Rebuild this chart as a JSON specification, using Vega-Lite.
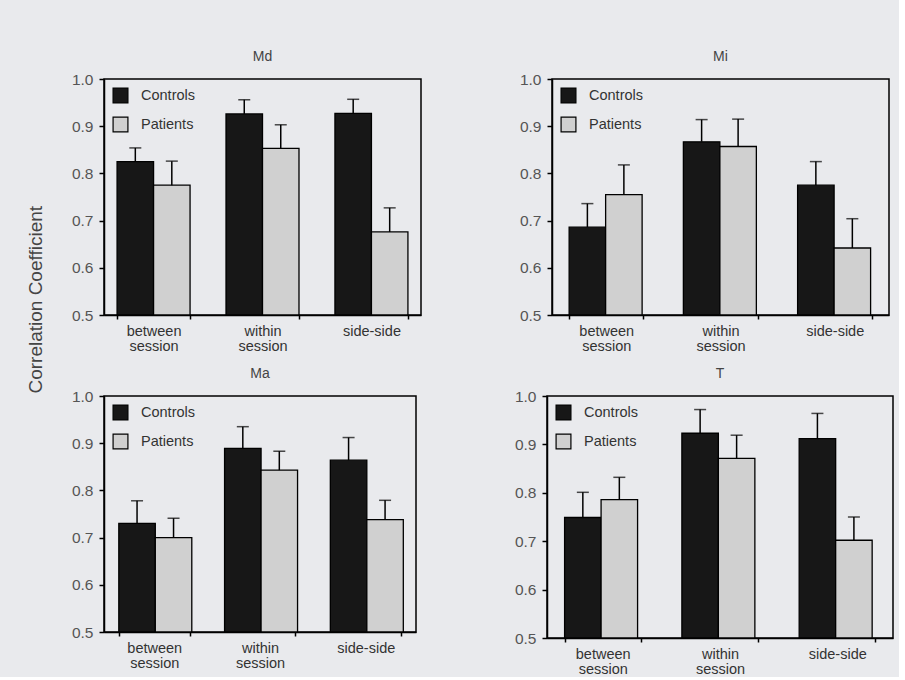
{
  "$schema": "https://vega.github.io/schema/vega-lite/v6.json",
  "background": "#e9eaed",
  "padding": {"left": 26, "top": 49, "right": 5, "bottom": 0},
  "title": {"text": "Correlation Coefficient", "orient": "left", "anchor": "middle", "fontSize": 19, "fontWeight": "normal", "color": "#444", "font": "Liberation Sans", "offset": 25, "dx": 63},
  "config": {
    "font": "Liberation Sans",
    "view": {"stroke": "black", "strokeWidth": 1.5},
    "axisY": {"values": [0.5, 0.6, 0.7, 0.8, 0.9, 1.0], "format": ".1f", "tickSize": 5, "domainWidth": 1.5, "domainColor": "black", "tickColor": "black", "tickWidth": 1.5, "labelFontSize": 15.5, "labelColor": "#555", "labelPadding": 6, "title": null, "grid": false},
    "axisX": {"title": null, "labelAngle": 0, "tickBand": "extent", "tickSize": 4, "domainWidth": 1.5, "domainColor": "black", "tickColor": "black", "tickWidth": 1.5, "labelFontSize": 14.5, "labelColor": "#333", "labelLineHeight": 15, "labelPadding": 5, "labelExpr": "split(datum.label, ' ')"},
    "legend": {"orient": "top-left", "offset": 8, "title": null, "symbolType": "square", "symbolSize": 220, "symbolStrokeColor": "black", "symbolStrokeWidth": 1.2, "labelFontSize": 14.5, "labelColor": "#333", "rowPadding": 8, "labelOffset": 12}
  },
  "data": {"values": [
    {"panel": "Md", "cat": "between session", "group": "Controls", "value": 0.825, "upper": 0.854},
    {"panel": "Md", "cat": "between session", "group": "Patients", "value": 0.775, "upper": 0.826},
    {"panel": "Md", "cat": "within session", "group": "Controls", "value": 0.926, "upper": 0.956},
    {"panel": "Md", "cat": "within session", "group": "Patients", "value": 0.853, "upper": 0.903},
    {"panel": "Md", "cat": "side-side", "group": "Controls", "value": 0.927, "upper": 0.957},
    {"panel": "Md", "cat": "side-side", "group": "Patients", "value": 0.676, "upper": 0.727},
    {"panel": "Mi", "cat": "between session", "group": "Controls", "value": 0.686, "upper": 0.736},
    {"panel": "Mi", "cat": "between session", "group": "Patients", "value": 0.755, "upper": 0.818},
    {"panel": "Mi", "cat": "within session", "group": "Controls", "value": 0.867, "upper": 0.914},
    {"panel": "Mi", "cat": "within session", "group": "Patients", "value": 0.857, "upper": 0.915},
    {"panel": "Mi", "cat": "side-side", "group": "Controls", "value": 0.775, "upper": 0.825},
    {"panel": "Mi", "cat": "side-side", "group": "Patients", "value": 0.642, "upper": 0.704},
    {"panel": "Ma", "cat": "between session", "group": "Controls", "value": 0.730, "upper": 0.778},
    {"panel": "Ma", "cat": "between session", "group": "Patients", "value": 0.700, "upper": 0.741},
    {"panel": "Ma", "cat": "within session", "group": "Controls", "value": 0.889, "upper": 0.935},
    {"panel": "Ma", "cat": "within session", "group": "Patients", "value": 0.843, "upper": 0.883},
    {"panel": "Ma", "cat": "side-side", "group": "Controls", "value": 0.864, "upper": 0.912},
    {"panel": "Ma", "cat": "side-side", "group": "Patients", "value": 0.738, "upper": 0.779},
    {"panel": "T", "cat": "between session", "group": "Controls", "value": 0.749, "upper": 0.801},
    {"panel": "T", "cat": "between session", "group": "Patients", "value": 0.786, "upper": 0.832},
    {"panel": "T", "cat": "within session", "group": "Controls", "value": 0.923, "upper": 0.972},
    {"panel": "T", "cat": "within session", "group": "Patients", "value": 0.871, "upper": 0.919},
    {"panel": "T", "cat": "side-side", "group": "Controls", "value": 0.912, "upper": 0.964},
    {"panel": "T", "cat": "side-side", "group": "Patients", "value": 0.702, "upper": 0.750}
  ]},
  "vconcat": [
    {"hconcat": [
      {"width": 317, "height": 236, "title": {"text": "Md", "fontSize": 14, "fontWeight": "normal", "color": "#444", "offset": 8},
       "transform": [{"filter": "datum.panel === 'Md'"}],
       "encoding": {"x": {"field": "cat", "type": "nominal", "sort": ["between session", "within session", "side-side"], "scale": {"paddingInner": 0.33, "paddingOuter": 0.12}}},
       "layer": [
        {"mark": {"type": "bar", "stroke": "black", "strokeWidth": 1.3}, "encoding": {"xOffset": {"field": "group", "sort": ["Controls", "Patients"]}, "y": {"field": "value", "type": "quantitative", "scale": {"domain": [0.5, 1.0], "zero": false}}, "y2": {"datum": 0.5}, "color": {"field": "group", "type": "nominal", "scale": {"domain": ["Controls", "Patients"], "range": ["#171717", "#d0d0d0"]}}}},
        {"mark": {"type": "rule", "strokeWidth": 1.5, "color": "black"}, "encoding": {"xOffset": {"field": "group", "sort": ["Controls", "Patients"]}, "y": {"field": "value", "type": "quantitative"}, "y2": {"field": "upper"}}},
        {"mark": {"type": "tick", "thickness": 1.5, "size": 12, "color": "black"}, "encoding": {"xOffset": {"field": "group", "sort": ["Controls", "Patients"]}, "y": {"field": "upper", "type": "quantitative"}}}
       ]},
      {"width": 337, "height": 236, "title": {"text": "Mi", "fontSize": 14, "fontWeight": "normal", "color": "#444", "offset": 8},
       "transform": [{"filter": "datum.panel === 'Mi'"}],
       "encoding": {"x": {"field": "cat", "type": "nominal", "sort": ["between session", "within session", "side-side"], "scale": {"paddingInner": 0.35, "paddingOuter": 0.15}}},
       "layer": [
        {"mark": {"type": "bar", "stroke": "black", "strokeWidth": 1.3}, "encoding": {"xOffset": {"field": "group", "sort": ["Controls", "Patients"]}, "y": {"field": "value", "type": "quantitative", "scale": {"domain": [0.5, 1.0], "zero": false}}, "y2": {"datum": 0.5}, "color": {"field": "group", "type": "nominal", "scale": {"domain": ["Controls", "Patients"], "range": ["#171717", "#d0d0d0"]}}}},
        {"mark": {"type": "rule", "strokeWidth": 1.5, "color": "black"}, "encoding": {"xOffset": {"field": "group", "sort": ["Controls", "Patients"]}, "y": {"field": "value", "type": "quantitative"}, "y2": {"field": "upper"}}},
        {"mark": {"type": "tick", "thickness": 1.5, "size": 12, "color": "black"}, "encoding": {"xOffset": {"field": "group", "sort": ["Controls", "Patients"]}, "y": {"field": "upper", "type": "quantitative"}}}
       ]}
    ], "spacing": 96, "resolve": {"scale": {"color": "independent", "y": "independent"}, "legend": {"color": "independent"}}},
    {"hconcat": [
      {"width": 312, "height": 236, "title": {"text": "Ma", "fontSize": 14, "fontWeight": "normal", "color": "#444", "offset": 8},
       "transform": [{"filter": "datum.panel === 'Ma'"}],
       "encoding": {"x": {"field": "cat", "type": "nominal", "sort": ["between session", "within session", "side-side"], "scale": {"paddingInner": 0.33, "paddingOuter": 0.14}}},
       "layer": [
        {"mark": {"type": "bar", "stroke": "black", "strokeWidth": 1.3}, "encoding": {"xOffset": {"field": "group", "sort": ["Controls", "Patients"]}, "y": {"field": "value", "type": "quantitative", "scale": {"domain": [0.5, 1.0], "zero": false}}, "y2": {"datum": 0.5}, "color": {"field": "group", "type": "nominal", "scale": {"domain": ["Controls", "Patients"], "range": ["#171717", "#d0d0d0"]}}}},
        {"mark": {"type": "rule", "strokeWidth": 1.5, "color": "black"}, "encoding": {"xOffset": {"field": "group", "sort": ["Controls", "Patients"]}, "y": {"field": "value", "type": "quantitative"}, "y2": {"field": "upper"}}},
        {"mark": {"type": "tick", "thickness": 1.5, "size": 12, "color": "black"}, "encoding": {"xOffset": {"field": "group", "sort": ["Controls", "Patients"]}, "y": {"field": "upper", "type": "quantitative"}}}
       ]},
      {"width": 346, "height": 242, "title": {"text": "T", "fontSize": 14, "fontWeight": "normal", "color": "#444", "offset": 8},
       "transform": [{"filter": "datum.panel === 'T'"}],
       "encoding": {"x": {"field": "cat", "type": "nominal", "sort": ["between session", "within session", "side-side"], "scale": {"paddingInner": 0.35, "paddingOuter": 0.15}}},
       "layer": [
        {"mark": {"type": "bar", "stroke": "black", "strokeWidth": 1.3}, "encoding": {"xOffset": {"field": "group", "sort": ["Controls", "Patients"]}, "y": {"field": "value", "type": "quantitative", "scale": {"domain": [0.5, 1.0], "zero": false}}, "y2": {"datum": 0.5}, "color": {"field": "group", "type": "nominal", "scale": {"domain": ["Controls", "Patients"], "range": ["#171717", "#d0d0d0"]}}}},
        {"mark": {"type": "rule", "strokeWidth": 1.5, "color": "black"}, "encoding": {"xOffset": {"field": "group", "sort": ["Controls", "Patients"]}, "y": {"field": "value", "type": "quantitative"}, "y2": {"field": "upper"}}},
        {"mark": {"type": "tick", "thickness": 1.5, "size": 12, "color": "black"}, "encoding": {"xOffset": {"field": "group", "sort": ["Controls", "Patients"]}, "y": {"field": "upper", "type": "quantitative"}}}
       ]}
    ], "spacing": 96, "resolve": {"scale": {"color": "independent", "y": "independent"}, "legend": {"color": "independent"}}}
  ],
  "spacing": 12,
  "resolve": {"scale": {"color": "independent", "y": "independent", "x": "independent"}, "legend": {"color": "independent"}}
}
